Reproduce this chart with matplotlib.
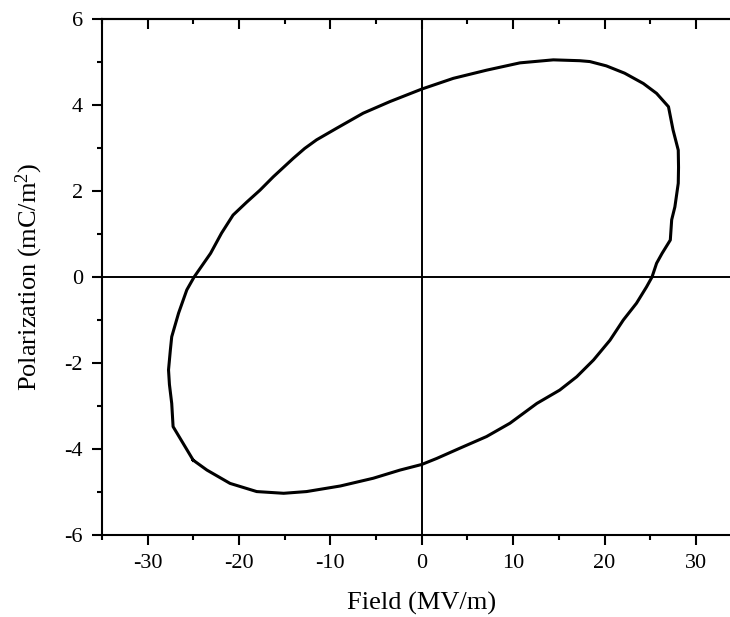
import matplotlib
matplotlib.use("Agg")
import matplotlib.pyplot as plt
from matplotlib.ticker import MultipleLocator

plt.rcParams['font.family'] = ['Liberation Serif', 'DejaVu Serif']
plt.rcParams['mathtext.default'] = 'regular'
plt.rcParams['axes.unicode_minus'] = False

# Hysteresis loop (Field in MV/m, Polarization in mC/m^2)
field = [-25.0, -26.1, -27.2, -27.35, -27.6, -27.7, -27.5, -27.35, -26.6, -25.7,
         -24.9, -23.1, -21.9, -20.64, -19.15, -17.69, -16.24, -14.05, -12.8, -11.5,
         -9.3, -6.4, -3.47, 0.0, 3.46, 7.1, 10.75, 14.4, 17.3, 18.4,
         20.2, 22.2, 24.25, 25.7, 27.0, 27.5, 28.07, 28.1, 28.07, 27.7,
         27.35, 27.2, 26.3, 25.7, 25.2, 24.6, 23.5, 22.06, 20.6, 18.8,
         16.96, 15.1, 12.6, 9.66, 7.1, 4.19, 1.64, 0.0, -2.37, -5.3,
         -8.9, -12.6, -15.1, -18.05, -20.97, -23.5, -25.0]
polar = [-4.26, -3.87, -3.48, -2.94, -2.5, -2.16, -1.7, -1.39, -0.84, -0.30,
         0.0, 0.55, 1.02, 1.44, 1.74, 2.02, 2.33, 2.76, 2.99, 3.19,
         3.46, 3.81, 4.08, 4.37, 4.62, 4.81, 4.98, 5.05, 5.03, 5.01,
         4.91, 4.74, 4.50, 4.27, 3.96, 3.42, 2.95, 2.55, 2.18, 1.63,
         1.33, 0.86, 0.55, 0.32, 0.0, -0.23, -0.61, -1.0, -1.47, -1.93,
         -2.32, -2.63, -2.94, -3.40, -3.71, -3.98, -4.22, -4.36, -4.49, -4.68,
         -4.86, -4.99, -5.03, -4.99, -4.80, -4.49, -4.26]

x_ticks = [-30, -20, -10, 0, 10, 20, 30]
y_ticks = [-6, -4, -2, 0, 2, 4, 6]

fig = plt.figure(figsize=(7.30, 6.17), dpi=100)
ax = fig.add_axes([101.8 / 730, 82 / 617, 639.8 / 730, 516 / 617])

ax.plot(field, polar, color='black', lw=2.2, solid_joinstyle='round')
ax.axhline(0, color='black', lw=1.4)
ax.axvline(0, color='black', lw=1.4)

ax.set_xlim(-35, 35)
ax.set_ylim(-6, 6)
ax.set_xticks(x_ticks)
ax.set_yticks(y_ticks)
ax.xaxis.set_minor_locator(MultipleLocator(5))
ax.yaxis.set_minor_locator(MultipleLocator(1))

for s in ax.spines.values():
    s.set_linewidth(1.5)
ax.spines['right'].set_visible(False)

ax.tick_params(axis='both', which='major', direction='out', length=7.5, width=1.5,
               labelsize=16, pad=6)
ax.tick_params(axis='both', which='minor', direction='out', length=3.5, width=1.5)
ax.tick_params(top=False, right=False)

sec = ax.secondary_xaxis('top')
sec.set_xticks(x_ticks)
sec.xaxis.set_minor_locator(MultipleLocator(5))
sec.tick_params(axis='x', which='major', direction='in', length=7.5, width=1.5, labeltop=False)
sec.tick_params(axis='x', which='minor', direction='in', length=3.5, width=1.5)
sec.spines['top'].set_linewidth(1.5)

ax.set_xlabel('Field (MV/m)', fontsize=19, labelpad=14)
ax.set_ylabel('Polarization (mC/m$^{2}$)', fontsize=19, labelpad=14)

fig.savefig('out.png', dpi=100)
